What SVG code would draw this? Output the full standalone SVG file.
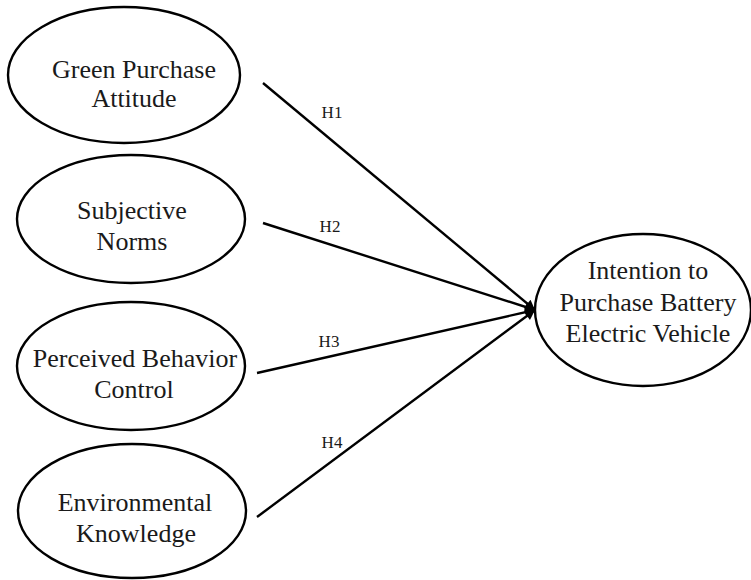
<svg xmlns="http://www.w3.org/2000/svg" width="751" height="580" viewBox="0 0 751 580">
<style>
.node ellipse{fill:#fff;stroke:#000;stroke-width:2.4}
.node text{font-family:"Liberation Serif","Times New Roman",serif;font-size:26px;fill:#1a1a1a;text-anchor:middle}
.edge{stroke:#000;stroke-width:2.4;fill:none;marker-end:url(#arr)}
.lbl{font-family:"Liberation Serif","Times New Roman",serif;font-size:17px;fill:#1a1a1a;text-anchor:middle}
</style>
<defs>
<marker id="arr" viewBox="0 0 10 10" refX="10" refY="5" markerWidth="12" markerHeight="10" markerUnits="userSpaceOnUse" orient="auto">
<path d="M0,0 L10,5 L0,10 z" fill="#000"/>
</marker>
</defs>
<rect width="751" height="580" fill="#fff"/>
<g id="connectors">
<line class="edge" x1="263" y1="83" x2="535" y2="310"/>
<line class="edge" x1="263" y1="223" x2="535" y2="310"/>
<line class="edge" x1="257" y1="373" x2="535" y2="310"/>
<line class="edge" x1="257" y1="517" x2="535" y2="310"/>
<text class="lbl" x="332" y="118">H1</text>
<text class="lbl" x="330" y="232">H2</text>
<text class="lbl" x="329" y="347">H3</text>
<text class="lbl" x="332" y="448">H4</text>
</g>
<g id="gpa" class="node">
<ellipse cx="124" cy="75" rx="116" ry="68"/>
<text x="134" y="78">Green Purchase</text>
<text x="134" y="107">Attitude</text>
</g>
<g id="sn" class="node">
<ellipse cx="131" cy="219" rx="114" ry="64"/>
<text x="132" y="219">Subjective</text>
<text x="132" y="250">Norms</text>
</g>
<g id="pbc" class="node">
<ellipse cx="131" cy="366" rx="114" ry="64"/>
<text x="135" y="367">Perceived Behavior</text>
<text x="134" y="398">Control</text>
</g>
<g id="ek" class="node">
<ellipse cx="132" cy="511" rx="114" ry="67"/>
<text x="135" y="511">Environmental</text>
<text x="136" y="542">Knowledge</text>
</g>
<g id="ipbev" class="node">
<ellipse cx="643" cy="310" rx="108" ry="76"/>
<text x="648" y="279">Intention to</text>
<text x="648" y="311">Purchase Battery</text>
<text x="648" y="342">Electric Vehicle</text>
</g>
</svg>
